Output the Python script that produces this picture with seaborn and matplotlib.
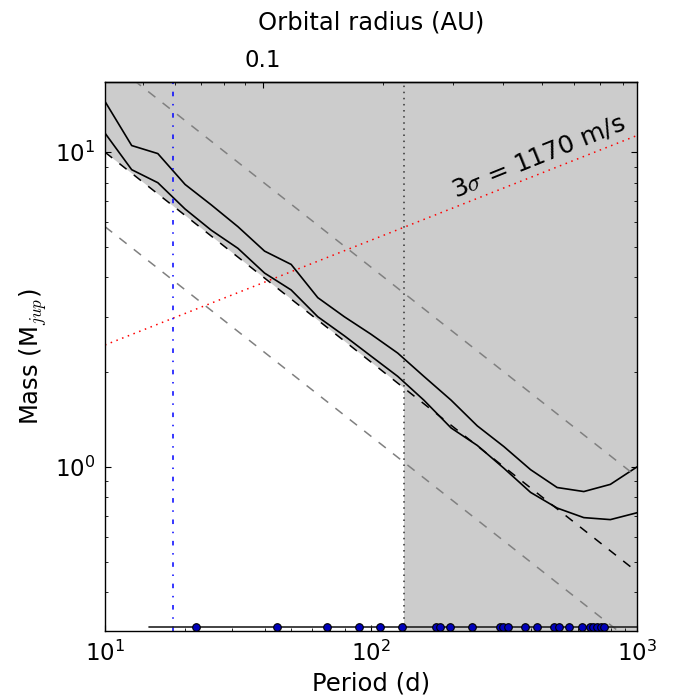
import numpy as np
import pandas as pd
import seaborn as sns
import matplotlib
matplotlib.use("Agg")
import matplotlib.pyplot as plt
from matplotlib import ticker

# detection limit curves (period grid in days, mass in M_jup)
period_grid = [10.0, 12.6, 15.8, 20.0, 25.1, 31.6, 39.8, 50.1, 63.1, 79.4, 100.0,
               126.0, 158.0, 200.0, 251.0, 316.0, 398.0, 501.0, 631.0, 794.0, 1000.0]
mass_upper = [14.5, 10.5, 9.9, 7.9, 6.8, 5.8, 4.85, 4.4, 3.45, 3.0, 2.64, 2.3,
              1.94, 1.63, 1.35, 1.16, 0.98, 0.86, 0.835, 0.88, 1.0]
mass_lower = [11.5, 8.8, 8.0, 6.6, 5.65, 4.95, 4.13, 3.65, 3.0, 2.61, 2.25, 1.94,
              1.63, 1.33, 1.17, 0.99, 0.83, 0.74, 0.69, 0.68, 0.715]

# straight reference lines (end points)
ref_P = [10.0, 1000.0]
ref_M = [10.0, 0.464]
ref_M_hi = [20.0, 0.93]
ref_M_lo = [5.8, 0.27]
sigma_P = [10.0, 1000.0]
sigma_M = [2.44, 11.3]
sigma_label = r"3$\sigma$ = 1170 m/s"

# vertical markers
P_blue = 18.0
P_cut = 133.0

# sampled periods along the bottom
sample_P = [22.0, 44.2, 68.2, 90.1, 108.4, 130.4, 174.8, 181.6, 198.0, 240.0,
            306.0, 314.0, 328.0, 378.0, 421.0, 489.0, 511.0, 553.0, 619.0,
            664.0, 686.0, 708.0, 730.0, 753.0]
sample_M = 0.31
sample_line_P = [14.6, 1000.0]

M_star = 0.0864  # solar masses, sets the orbital radius axis
a_ticks = [0.1]
a_minor = [0.05, 0.06, 0.07, 0.08, 0.09, 0.2, 0.3, 0.4, 0.5, 0.6, 0.7, 0.8]

sns.set_style("ticks")
plt.rcParams.update({
    "font.family": ["DejaVu Sans"],
    "mathtext.fontset": "cm",
    "text.color": "black",
    "axes.labelcolor": "black",
    "axes.edgecolor": "black",
    "xtick.color": "black",
    "ytick.color": "black",
    "xtick.direction": "in",
    "ytick.direction": "in",
    "xtick.major.size": 4, "ytick.major.size": 4,
    "xtick.minor.size": 2, "ytick.minor.size": 2,
    "xtick.major.pad": 7, "ytick.major.pad": 7,
    "xtick.labelsize": 16.5, "ytick.labelsize": 16.5,
    "axes.labelsize": 17.5,
    "axes.linewidth": 1.0,
    "lines.dashed_pattern": [6, 6],
    "lines.dashdot_pattern": [3, 5, 1, 5],
    "lines.dotted_pattern": [1, 3],
})

fig = plt.figure(figsize=(6.73, 6.96), dpi=100)
ax = fig.add_axes([0.156, 0.0934, 0.7905, 0.7886])
ax.set_xscale("log")
ax.set_yscale("log")

shade = "#cccccc"
ax.fill_between(ref_P, ref_M, 100, color=shade, lw=0, zorder=0)
ax.axvspan(P_cut, 1e4, color=shade, lw=0, zorder=0)

df = pd.DataFrame({"P": period_grid, "upper": mass_upper, "lower": mass_lower})
sns.lineplot(data=df, x="P", y="upper", ax=ax, color="k", lw=1.2, estimator=None, sort=False)
sns.lineplot(data=df, x="P", y="lower", ax=ax, color="k", lw=1.2, estimator=None, sort=False)

sns.lineplot(x=ref_P, y=ref_M, ax=ax, color="k", lw=1.1, linestyle="--")
sns.lineplot(x=ref_P, y=ref_M_hi, ax=ax, color="gray", lw=1.1, linestyle="--")
sns.lineplot(x=ref_P, y=ref_M_lo, ax=ax, color="gray", lw=1.1, linestyle="--")
sns.lineplot(x=sigma_P, y=sigma_M, ax=ax, color="red", lw=1.1, linestyle=":")

ax.axvline(P_blue, color="b", lw=1.1, linestyle="-.")
ax.axvline(P_cut, color="#333333", lw=1.1, linestyle=":")

sns.lineplot(x=sample_line_P, y=[sample_M, sample_M], ax=ax, color="#222222", lw=1.2)
sns.scatterplot(x=sample_P, y=[sample_M] * len(sample_P), ax=ax, color="#0000bb",
                edgecolor="k", linewidth=0.8, s=30, zorder=5)

ax.text(207, 7.15, sigma_label, fontsize=18, rotation=22, rotation_mode="anchor",
        ha="left", va="baseline")

ax.set_xlim(10, 1000)
ax.set_ylim(0.301, 16.7)
ax.set_xlabel("Period (d)")
ax.set_ylabel(r"Mass (M$_{jup}$)")
ax.tick_params(which="both", top=False, right=True)


def p_to_a(p):
    p = np.asarray(p, dtype=float)
    return (M_star * (p / 365.25) ** 2) ** (1.0 / 3.0)


def a_to_p(a):
    a = np.asarray(a, dtype=float)
    return 365.25 * np.sqrt(a ** 3 / M_star)


top = ax.secondary_xaxis("top", functions=(p_to_a, a_to_p))
top.xaxis.set_major_locator(ticker.FixedLocator(a_ticks))
top.xaxis.set_minor_locator(ticker.FixedLocator(a_minor))
top.xaxis.set_major_formatter(ticker.FuncFormatter(lambda v, pos: f"{v:g}"))
top.xaxis.set_minor_formatter(ticker.NullFormatter())
top.tick_params(which="both", direction="in")
top.set_xlabel("Orbital radius (AU)", labelpad=14)

sns.despine(ax=ax, top=False, right=False)
fig.savefig("out.png", dpi=100)
